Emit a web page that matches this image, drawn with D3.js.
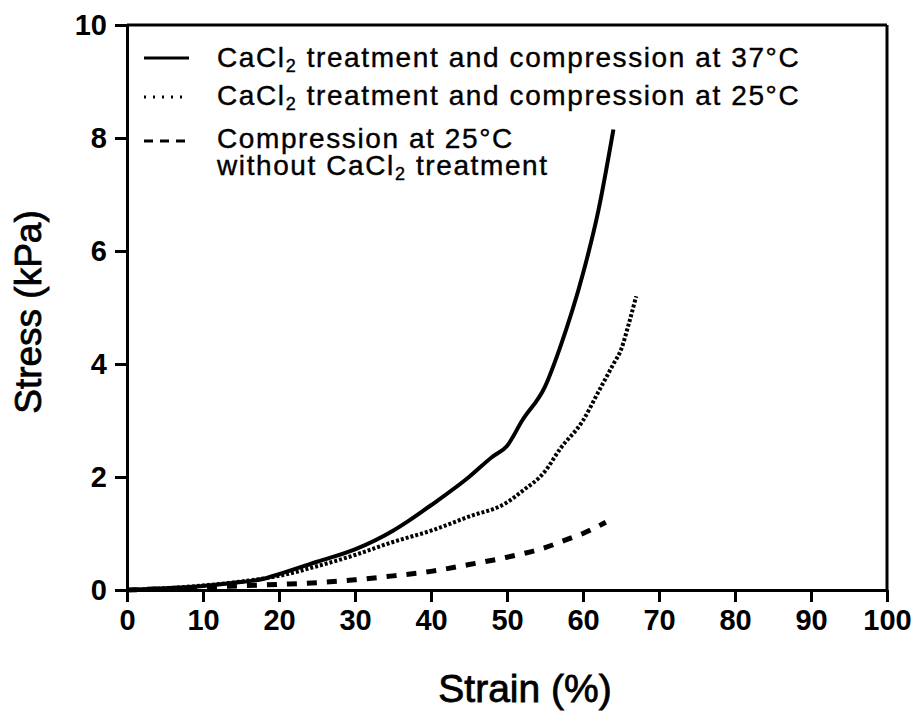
<!DOCTYPE html>
<html>
<head>
<meta charset="utf-8">
<script src="https://cdn.jsdelivr.net/npm/d3@7"></script>
<style>
  body { margin: 0; background: white; }
  svg { font-family: Arial, "Liberation Sans", sans-serif; }
</style>
</head>
<body>
<svg id="chart"></svg>
<script>
// series data (strain %, stress kPa)
var strain37 = [0, 5, 10, 15, 18, 20, 25, 30, 35, 37, 40, 45, 48, 50, 52, 55, 57, 60, 62, 64];
var stress37 = [0, 0.03, 0.07, 0.14, 0.2, 0.28, 0.5, 0.72, 1.05, 1.22, 1.5, 2.0, 2.35, 2.55, 3.0, 3.6, 4.3, 5.6, 6.7, 8.15];

var strain25 = [0, 5, 10, 15, 20, 25, 30, 35, 40, 45, 50, 52, 55, 57, 60, 62, 64, 65, 66, 67];
var stress25 = [0, 0.03, 0.08, 0.15, 0.25, 0.42, 0.62, 0.85, 1.05, 1.3, 1.55, 1.75, 2.1, 2.5, 3.0, 3.5, 4.0, 4.25, 4.7, 5.2];

var strainNoCa = [0, 10, 20, 25, 30, 35, 40, 45, 50, 55, 58, 60, 63];
var stressNoCa = [0, 0.05, 0.1, 0.13, 0.18, 0.25, 0.33, 0.45, 0.58, 0.75, 0.9, 1.0, 1.2];

var xTicks = [0, 10, 20, 30, 40, 50, 60, 70, 80, 90, 100];
var yTicks = [0, 2, 4, 6, 8, 10];

var seriesLabels = [
    ["CaCl", "2", " treatment and compression at 37°C"],
    ["CaCl", "2", " treatment and compression at 25°C"],
    ["Compression at 25°C"]
];

var svg = d3.select("#chart")
    .attr("width", 918)
    .attr("height", 711);

var plotLeft = 127, plotRight = 887, plotTop = 25, plotBottom = 590;

var x = d3.scaleLinear().domain([0, 100]).range([plotLeft, plotRight]);
var y = d3.scaleLinear().domain([0, 10]).range([plotBottom, plotTop]);

// frame top and right
svg.append("line")
    .attr("x1", plotLeft).attr("x2", plotRight)
    .attr("y1", plotTop).attr("y2", plotTop)
    .style("stroke", "black").style("stroke-width", 3);
svg.append("line")
    .attr("x1", plotRight).attr("x2", plotRight)
    .attr("y1", plotTop).attr("y2", plotBottom)
    .style("stroke", "black").style("stroke-width", 3);

var xAxis = svg.append("g")
    .attr("transform", "translate(0," + plotBottom + ")")
    .call(d3.axisBottom(x).tickValues(xTicks).tickSize(12).tickPadding(7).tickSizeOuter(0));

var yAxis = svg.append("g")
    .attr("transform", "translate(" + plotLeft + ",0)")
    .call(d3.axisLeft(y).tickValues(yTicks).tickSize(12).tickPadding(8).tickSizeOuter(0));

[xAxis, yAxis].forEach(function(ax) {
    ax.select(".domain").style("stroke", "black").style("stroke-width", 3);
    ax.selectAll(".tick line").style("stroke", "black").style("stroke-width", 3);
    ax.selectAll(".tick text")
        .attr("fill", "black")
        .attr("font-size", "29px")
        .attr("font-weight", "bold")
        .attr("font-family", "Arial, 'Liberation Sans', sans-serif");
});

// axis titles
svg.append("text")
    .attr("x", 525)
    .attr("y", 702)
    .attr("text-anchor", "middle")
    .attr("font-size", "39px")
    .style("stroke", "black").style("stroke-width", 0.8)
    .text("Strain (%)");

svg.append("text")
    .attr("transform", "rotate(-90)")
    .attr("x", -312)
    .attr("y", 41)
    .attr("text-anchor", "middle")
    .attr("font-size", "37px")
    .style("stroke", "black").style("stroke-width", 0.8)
    .text("Stress (kPa)");

var line = d3.line()
    .x(function(d) { return x(d[0]); })
    .y(function(d) { return y(d[1]); })
    .curve(d3.curveMonotoneX);

function pairs(a, b) {
    return a.map(function(v, i) { return [v, b[i]]; });
}

svg.append("path")
    .datum(pairs(strainNoCa, stressNoCa))
    .attr("d", line)
    .style("fill", "none").style("stroke", "black")
    .style("stroke-width", 5)
    .style("stroke-dasharray", "10,10");

svg.append("path")
    .datum(pairs(strain25, stress25))
    .attr("d", line)
    .style("fill", "none").style("stroke", "black")
    .style("stroke-width", 4)
    .style("stroke-dasharray", "3,2");

svg.append("path")
    .datum(pairs(strain37, stress37))
    .attr("d", line)
    .style("fill", "none").style("stroke", "black")
    .style("stroke-width", 4);

// legend
var legendRows = [
    { y: 58, base: 67, dash: null },
    { y: 97, base: 105, dash: "2,7" },
    { y: 141, base: 148, dash: "9,7" }
];

function addLabel(xPos, yPos, parts) {
    var t = svg.append("text")
        .attr("x", xPos)
        .attr("y", yPos)
        .attr("font-size", "28px")
        .style("letter-spacing", "1.6px")
        .style("stroke", "black").style("stroke-width", 0.4);
    t.append("tspan").text(parts[0]);
    if (parts.length > 1) {
        t.append("tspan").attr("font-size", "18px").attr("dy", 5).text(parts[1]);
        t.append("tspan").attr("dy", -5).text(parts[2]);
    }
}

legendRows.forEach(function(r, i) {
    svg.append("line")
        .attr("x1", 144).attr("x2", 189)
        .attr("y1", r.y).attr("y2", r.y)
        .style("stroke", "black")
        .style("stroke-width", 3)
        .style("stroke-dasharray", r.dash);
    addLabel(217, r.base, seriesLabels[i]);
});

addLabel(217, 175, ["without CaCl", "2", " treatment"]);
</script>
</body>
</html>
